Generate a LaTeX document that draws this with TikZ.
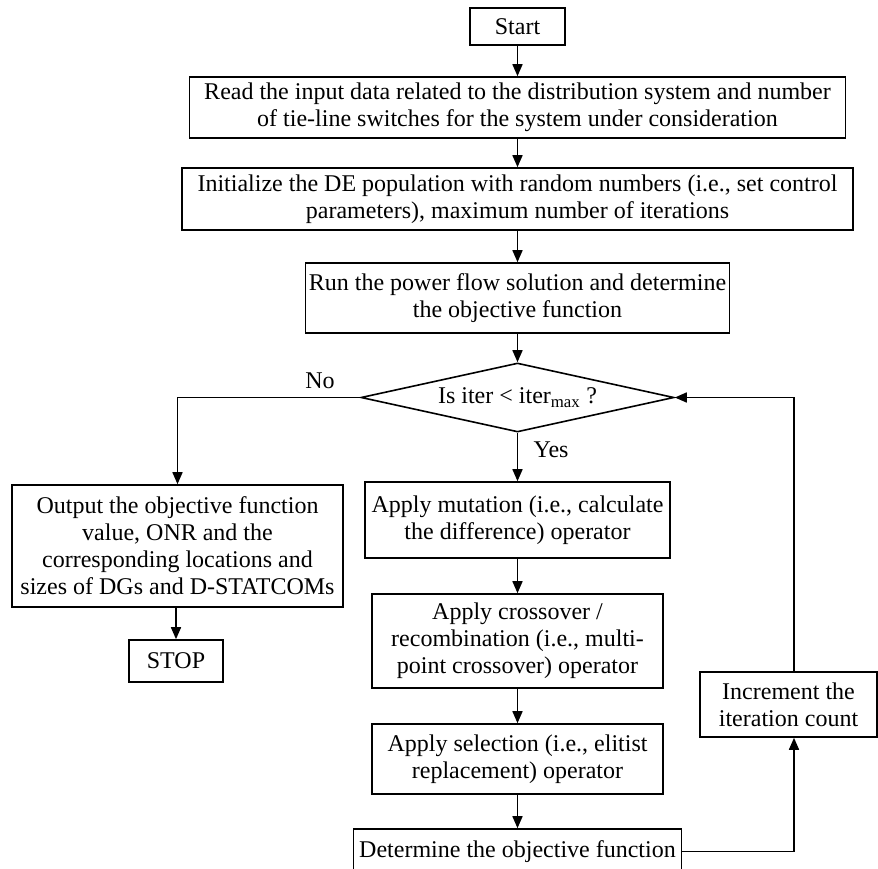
\documentclass[tikz,border=0pt]{standalone}
\usepackage{fontspec}
\setmainfont{Liberation Serif}
\usetikzlibrary{positioning,shapes.geometric,arrows.meta}

\begin{document}
\begin{tikzpicture}[x=1pt, y=1pt, node distance=100pt, auto,
    font=\fontsize{24}{27}\selectfont,
    box/.style={draw, rectangle, line width=1.6pt, align=center, inner sep=3pt},
    flow/.style={->, line width=1.6pt},
    >={Triangle[length=12pt, width=10pt]}]
    \useasboundingbox (0,0) rectangle (878,-869);

    % Main column
    \node[box, minimum width=95pt, minimum height=37pt] (start) at (517.5,-26.5) {Start};
    \node[box, minimum width=656pt, minimum height=61pt, below of=start, yshift=19pt] (read) {Read the input data related to the distribution system and number\\ of tie-line switches for the system under consideration};
    \node[box, minimum width=671pt, minimum height=62pt, below of=read, yshift=8.5pt] (init) {Initialize the DE population with random numbers (i.e., set control\\ parameters), maximum number of iterations};
    \node[box, minimum width=424pt, minimum height=70pt, below of=init, yshift=1pt] (run) {Run the power flow solution and determine\\ the objective function};

    % Decision
    \node[draw, diamond, line width=1.6pt, aspect=4.5, inner sep=1pt, minimum width=313pt, minimum height=69pt, below of=run, yshift=0.5pt] (dec) {Is iter < iter\textsubscript{max} ?};

    % DE operators
    \node[box, minimum width=305pt, minimum height=76pt, below of=dec, yshift=-22.5pt] (mut) {Apply mutation (i.e., calculate\\ the difference) operator};
    \node[box, minimum width=291pt, minimum height=94pt, below of=mut, yshift=-21pt] (cross) {Apply crossover /\\ recombination (i.e., multi-\\ point crossover) operator};
    \node[box, minimum width=291pt, minimum height=70pt, below of=cross, yshift=-18pt] (sel) {Apply selection (i.e., elitist\\ replacement) operator};
    \node[box, minimum width=328pt, minimum height=45pt, below of=sel, yshift=7.5pt] (det) {Determine the objective function};

    % Output branch
    \node[box, minimum width=331pt, minimum height=122pt, left of=mut, xshift=-240pt, yshift=-26pt] (out) {Output the objective function\\ value, ONR and the\\ corresponding locations and\\ sizes of DGs and D-STATCOMs};
    \node[box, minimum width=94pt, minimum height=42pt, below of=out, xshift=-1.5pt, yshift=-15pt] (stop) {STOP};

    % Loop counter
    \node[box, minimum width=177pt, minimum height=65pt, right of=sel, xshift=171pt, yshift=54.5pt] (inc) {Increment the\\ iteration count};

    % Arrows
    \draw[flow] (start) -- (read);
    \draw[flow] (read) -- (init);
    \draw[flow] (init) -- (run);
    \draw[flow] (run) -- (dec);
    \draw[flow] (dec) -- node[pos=0.36, right=12pt] {Yes} (mut);
    \draw[flow] (mut) -- (cross);
    \draw[flow] (cross) -- (sel);
    \draw[flow] (sel) -- (det);
    \draw[flow] (dec.west) -| node[pos=0.11, above=5pt] {No} (out.north);
    \draw[flow] (out.south -| stop.north) -- (stop);
    \draw[flow] (det.east) -| ([xshift=5.5pt]inc.south);
    \draw[flow] ([xshift=5.5pt]inc.north) |- (dec.east);
\end{tikzpicture}
\end{document}
